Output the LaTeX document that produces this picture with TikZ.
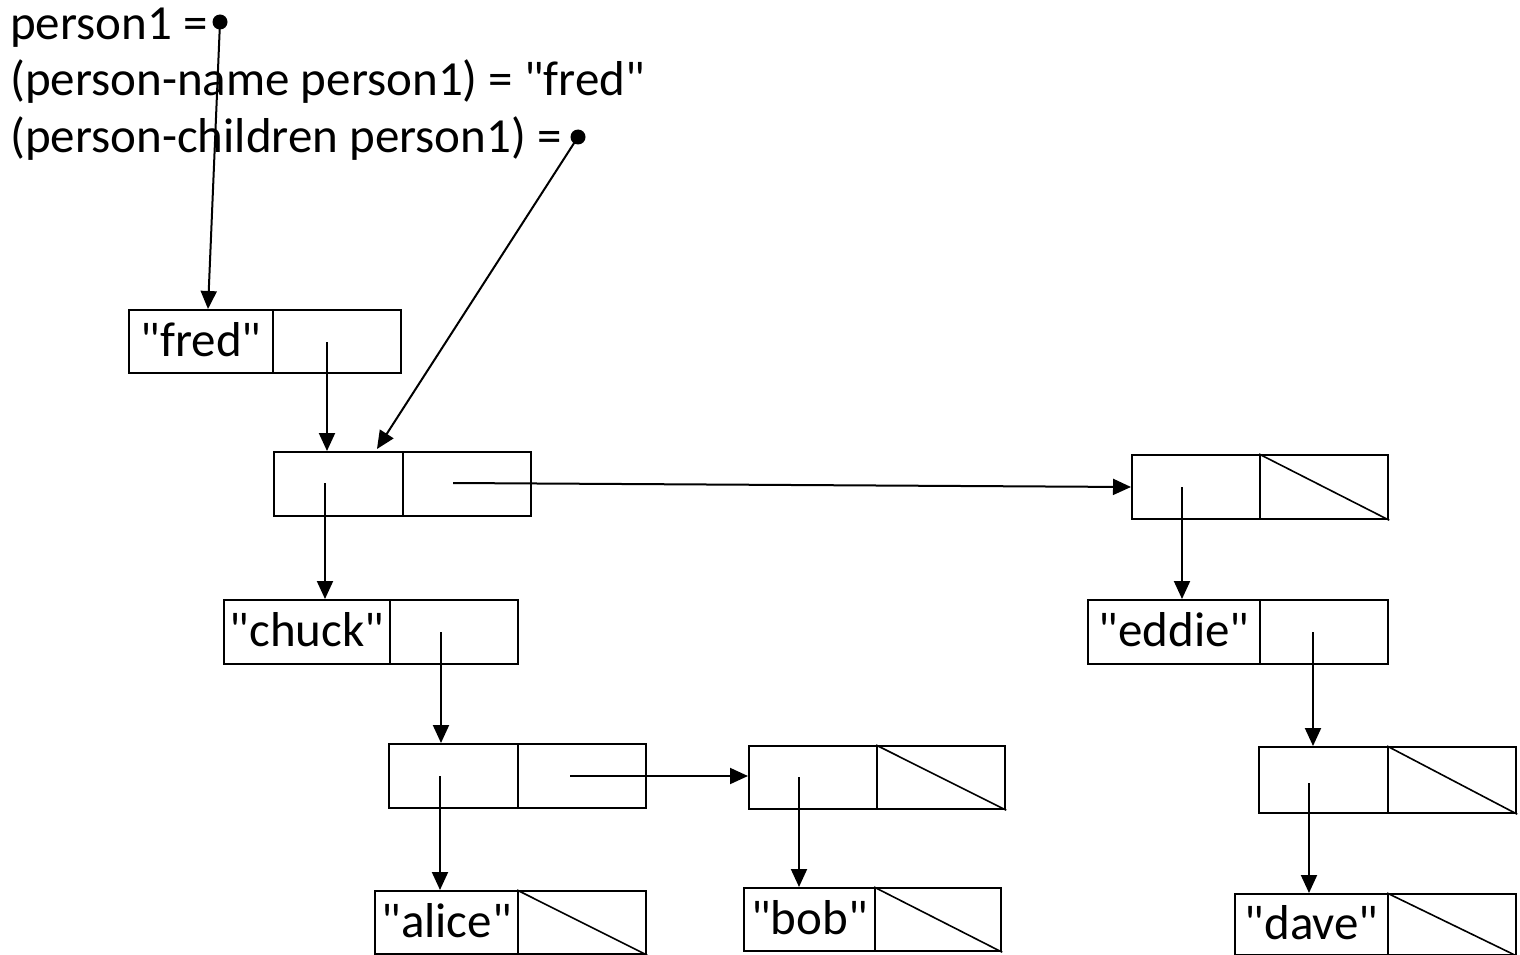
\documentclass[tikz,border=0pt]{standalone}
\usepackage{fontspec}
\setmainfont{Carlito}[Ligatures=TeXOff]
\usetikzlibrary{arrows.meta}

\begin{document}
\begin{tikzpicture}[x=1pt, y=-1pt,
  cell/.style={draw, line width=2.2pt, inner sep=0pt, anchor=north west,
               minimum height=63pt, text height=30pt, text depth=1pt,
               font=\fontsize{49}{56}\selectfont},
  ptr/.style={line width=2pt, -{Triangle[length=18pt, width=16pt]}},
  nil/.style={line width=1.6pt},
  dot/.style={circle, fill, inner sep=0pt, minimum width=12pt, minimum height=15pt},
  code/.style={anchor=base west, inner sep=0pt, font=\fontsize{49}{56}\selectfont}]

\useasboundingbox (0,0) rectangle (1520,955);

% --- variable text ---
\node[code] (l1) at (10,40) {person1 =};
\node[code] (l2) at (10,96) {(person-name person1) = "fred"};
\node[code] (l3) at (10,152) {(person-children person1) =};
\node[dot] (d1) at (220,22) {};
\node[dot] (d2) at (578,137) {};

% --- person record: name / children ---
\node[cell, minimum width=144pt] (fredA) at (128,309) {"fred"};
\node[cell, minimum width=128pt] (fredB) at (272,309) {};

% --- children list: first cons ---
\node[cell, minimum width=129pt, minimum height=64pt] (c1A) at (273,451) {};
\node[cell, minimum width=128pt, minimum height=64pt] (c1B) at (402,451) {};

% --- children list: second cons ---
\node[cell, minimum width=128pt, minimum height=64pt] (c2A) at (1131,454) {};
\node[cell, minimum width=128pt, minimum height=64pt] (c2B) at (1259,454) {};

% --- chuck record ---
\node[cell, minimum width=166pt, minimum height=64pt] (chA) at (223,599) {"chuck"};
\node[cell, minimum width=128pt, minimum height=64pt] (chB) at (389,599) {};

% --- eddie record ---
\node[cell, minimum width=172pt, minimum height=64pt] (edA) at (1087,599) {"eddie"};
\node[cell, minimum width=128pt, minimum height=64pt] (edB) at (1259,599) {};

% --- chuck's children ---
\node[cell, minimum width=129pt, minimum height=64pt] (c3A) at (388,743) {};
\node[cell, minimum width=128pt, minimum height=64pt] (c3B) at (517,743) {};
\node[cell, minimum width=128pt, minimum height=63pt] (c4A) at (748,745) {};
\node[cell, minimum width=128pt, minimum height=63pt] (c4B) at (876,745) {};

% --- eddie's children ---
\node[cell, minimum width=129pt, minimum height=66pt] (c5A) at (1258,746) {};
\node[cell, minimum width=128pt, minimum height=66pt] (c5B) at (1387,746) {};

% --- leaf records ---
\node[cell, minimum width=143pt] (alA) at (374,890) {"alice"};
\node[cell, minimum width=128pt] (alB) at (517,890) {};
\node[cell, minimum width=131pt] (boA) at (743,887) {"bob"};
\node[cell, minimum width=126pt] (boB) at (874,887) {};
\node[cell, minimum width=153pt, minimum height=61pt] (daA) at (1234,893) {"dave"};
\node[cell, minimum width=128pt, minimum height=61pt] (daB) at (1387,893) {};

% --- empty (nil) cells ---
\foreach \c in {c2B, c4B, c5B, alB, boB, daB}
  \draw[nil] (\c.north west) -- (\c.south east);

% --- pointer origins and targets ---
\coordinate (fredIn) at (208,309);
\coordinate (c1In) at (377,449);
\coordinate (p1) at (327,342);  \coordinate (t1) at (327,451);
\coordinate (p2) at (325,483);  \coordinate (t2) at (325,599);
\coordinate (p3) at (453,483);  \coordinate (t3) at (1131,487);
\coordinate (p4) at (1182,487); \coordinate (t4) at (1182,599);
\coordinate (p5) at (441,632);  \coordinate (t5) at (441,743);
\coordinate (p6) at (1313,632); \coordinate (t6) at (1313,746);
\coordinate (p7) at (440,776);  \coordinate (t7) at (440,890);
\coordinate (p8) at (570,776);  \coordinate (t8) at (748,776);
\coordinate (p9) at (799,777);  \coordinate (t9) at (799,887);
\coordinate (p10) at (1309,783); \coordinate (t10) at (1309,893);

% --- pointers ---
\draw[ptr] (d1.center) -- (fredIn);
\draw[ptr] (d2.center) -- (c1In);
\foreach \i in {1,...,10}
  \draw[ptr] (p\i) -- (t\i);

\end{tikzpicture}
\end{document}
